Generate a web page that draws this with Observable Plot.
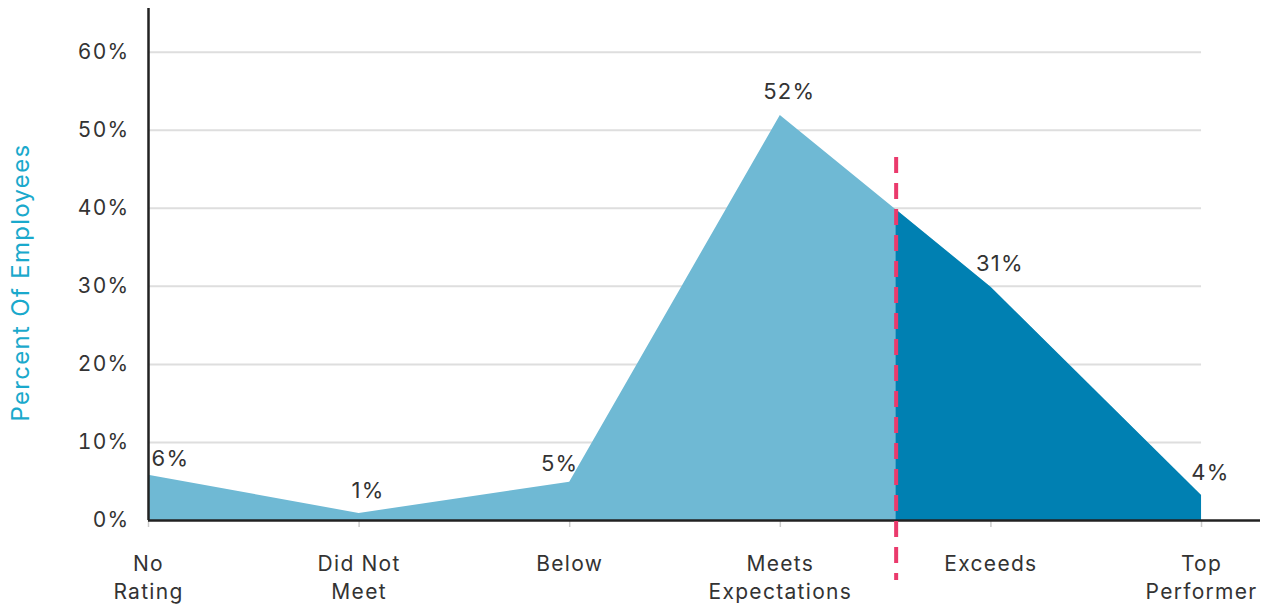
<!DOCTYPE html>
<html><head><meta charset="utf-8">
<script src="https://cdn.jsdelivr.net/npm/d3@7"></script>
<script src="https://cdn.jsdelivr.net/npm/@observablehq/plot@0.6"></script>
<style>html,body{margin:0;padding:0;background:#fff}</style>
</head><body><div id="chart"></div>
<script>
const categories = ["No Rating", "Did Not Meet", "Below", "Meets Expectations", "Exceeds", "Top Performer"];
const tickLabels = ["No\nRating", "Did Not\nMeet", "Below", "Meets\nExpectations", "Exceeds", "Top\nPerformer"];
const values = [5.8, 0.9, 4.9, 51.9, 29.9, 3.2];
const valueLabels = ["6%", "1%", "5%", "52%", "31%", "4%"];
const yTicks = [0, 10, 20, 30, 40, 50, 60];
const cutoff = 3.55; // position of the dashed cut line between "Meets Expectations" and "Exceeds"

const data = categories.map((c, i) => ({i, category: c, value: values[i], label: valueLabels[i]}));
const lo = Math.floor(cutoff), hi = Math.ceil(cutoff);
const cutValue = d3.interpolateNumber(values[lo], values[hi])(cutoff - lo);
const upper = [{i: cutoff, value: cutValue}, ...data.filter(d => d.i > cutoff)];
const last = categories.length - 1;

const font = "Inter, 'Noto Sans', sans-serif";
const chart = Plot.plot({
  width: 1271, height: 607,
  marginLeft: 148, marginRight: 11, marginTop: 8, marginBottom: 87,
  style: {fontFamily: font, fontSize: "21px", color: "#333", background: "#fff", letterSpacing: "1.3px"},
  x: {domain: [0, last + 0.28], axis: null},
  y: {domain: [0, 65.6], axis: null},
  marks: [
    Plot.ruleY(yTicks.filter(t => t > 0), {x1: 0, x2: last, stroke: "#dedede", strokeWidth: 2}),
    Plot.areaY(data, {x: "i", y: "value", fill: "#6fb9d4"}),
    Plot.areaY(upper, {x: "i", y: "value", fill: "#0080b2"}),
    Plot.axisX(data.map(d => d.i), {tickFormat: i => tickLabels[i], tickSize: 7, tickPadding: 24, stroke: "#ccc", strokeWidth: 1.5, fill: "#333", fontSize: 21, lineHeight: 1.33, label: null}),
    Plot.axisY(yTicks, {tickFormat: d => d + "%", tickSize: 0, tickPadding: 19, fill: "#333", fontSize: 21, label: null}),
    Plot.ruleY([0], {x1: 0, x2: last + 0.28, stroke: "#222", strokeWidth: 2.5}),
    Plot.ruleX([0], {stroke: "#222", strokeWidth: 2.5}),
    Plot.ruleX([cutoff], {stroke: "#ea3a6c", strokeWidth: 4, strokeDasharray: "16,10", insetTop: 149, insetBottom: -60}),
    Plot.text(data.slice(0, 1), {x: "i", y: "value", text: "label", textAnchor: "start", dx: 3, dy: -16, fill: "#333", fontSize: 22}),
    Plot.text(data.slice(2, 3), {x: "i", y: "value", text: "label", dx: -10, dy: -18, fill: "#333", fontSize: 22}),
    Plot.text(data.filter(d => d.i !== 0 && d.i !== 2), {x: "i", y: "value", text: "label", dx: 9, dy: -23, fill: "#333", fontSize: 22}),
    Plot.text(["Percent Of Employees"], {frameAnchor: "left", textAnchor: "middle", rotate: -90, dx: -127, dy: 18, fill: "#1aa9cc", fontSize: 24})
  ]
});
document.getElementById("chart").appendChild(chart);
</script>
</body></html>
